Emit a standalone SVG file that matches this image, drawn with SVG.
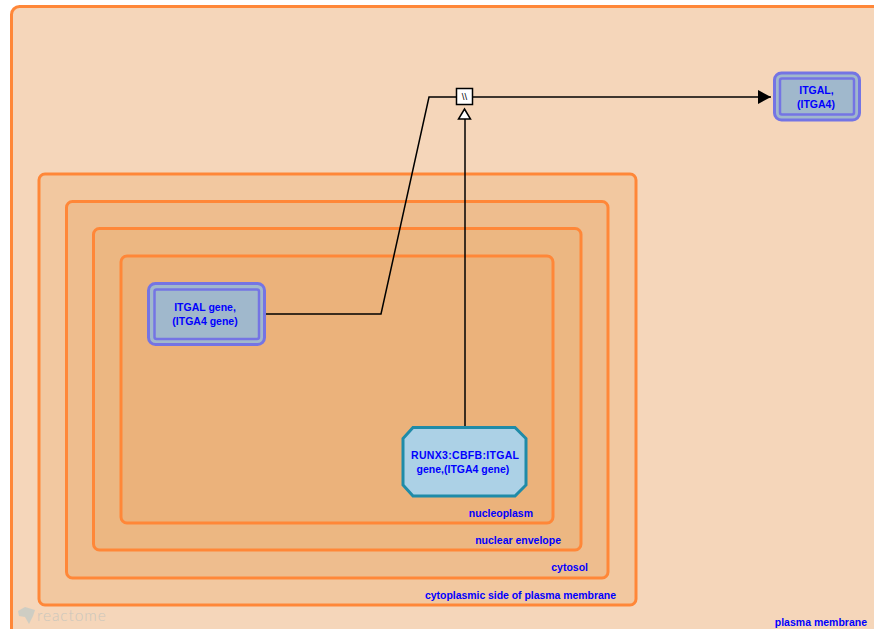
<svg xmlns="http://www.w3.org/2000/svg" width="874" height="629" viewBox="0 0 874 629">
<style>
.c{stroke:#FF8738;stroke-width:3}
.t{font-family:"Liberation Sans",Arial,sans-serif;font-size:10.5px;font-weight:bold;fill:#0000FF;text-anchor:middle}
.l{text-anchor:end}
.g{fill:#A0B8CC;stroke:#7474E4;stroke-width:3}
.i{fill:#A0B8CC;stroke:#7474E4;stroke-width:2.500}
.e{fill:none;stroke:#000;stroke-width:1.500}
</style>
<defs>
<marker id="fa" markerUnits="userSpaceOnUse" markerWidth="14" markerHeight="15" refX="13" refY="7.500" orient="auto"><path d="M0,0.500L13,7.500L0,14.500Z" fill="#000"/></marker>
</defs>
<rect width="874" height="629" fill="#fff"/>
<g id="comp-plasma-membrane"><rect class="c" x="11.500" y="6.500" width="900" height="660" rx="8" fill="#F5D6BA"/></g>
<g id="comp-cytoplasmic"><rect class="c" x="39" y="174" width="597" height="431" rx="6" fill="#F2C8A0"/></g>
<g id="comp-cytosol"><rect class="c" x="66.500" y="201.500" width="541.500" height="376.500" rx="6" fill="#EEBD8E"/></g>
<g id="comp-envelope"><rect class="c" x="93.500" y="228.500" width="487.500" height="321.500" rx="6" fill="#ECB782"/></g>
<g id="comp-nucleoplasm"><rect class="c" x="121" y="256" width="432" height="267" rx="6" fill="#EBB27B"/></g>
<g id="labels">
<text class="t l" x="867" y="625.500">plasma membrane</text>
<text class="t l" x="616" y="598.500" textLength="191" lengthAdjust="spacing">cytoplasmic side of plasma membrane</text>
<text class="t l" x="588" y="571">cytosol</text>
<text class="t l" x="561" y="543.500">nuclear envelope</text>
<text class="t l" x="533" y="516.500">nucleoplasm</text>
</g>
<g id="watermark" opacity="0.5">
<path d="M18,611L25,607L35,610L33,616L29,624L25,617L19,616Z" fill="#A9C6CC"/>
<text x="37" y="621" font-family="Lato,sans-serif" font-size="15.500" font-weight="300" letter-spacing="0.900" fill="#9FB8BE">reactome</text>
</g>
<g id="connectors">
<path class="e" d="M265,314H381L429,97H457"/>
<path class="e" d="M465,427V119"/>
<path d="M464.500,109L470.500,119H458.500Z" fill="#fff" stroke="#000" stroke-width="1.500"/>
<path class="e" d="M473,97H771" marker-end="url(#fa)"/>
</g>
<g id="reaction">
<rect x="456.500" y="88.500" width="16" height="16" fill="#fff" stroke="#000" stroke-width="1.500"/>
<text x="464.500" y="100" font-family="Liberation Sans,Arial,sans-serif" font-size="9.500" text-anchor="middle" fill="#000">\\</text>
</g>
<g id="gene-itgal">
<rect class="g" x="148.500" y="283.500" width="116" height="61" rx="7"/>
<rect class="i" x="154.500" y="289.500" width="104.500" height="49.500" rx="2"/>
<text class="t" x="205" y="311">ITGAL gene,</text>
<text class="t" x="205" y="325">(ITGA4 gene)</text>
</g>
<g id="complex-runx3">
<path d="M413,427.500H515L526,438.500V485L515,496H413L403,485V438.500Z" fill="#ACD1E6" stroke="#1F8BA8" stroke-width="3"/>
<text class="t" x="465" y="459" textLength="108" lengthAdjust="spacing">RUNX3:CBFB:ITGAL</text>
<text class="t" x="463" y="472.500">gene,(ITGA4 gene)</text>
</g>
<g id="protein-itgal">
<rect class="g" x="774.500" y="73" width="85" height="47" rx="7"/>
<rect class="i" x="780" y="78.500" width="74" height="36" rx="2"/>
<text class="t" x="816.500" y="94">ITGAL,</text>
<text class="t" x="816" y="107.500">(ITGA4)</text>
</g>
</svg>
